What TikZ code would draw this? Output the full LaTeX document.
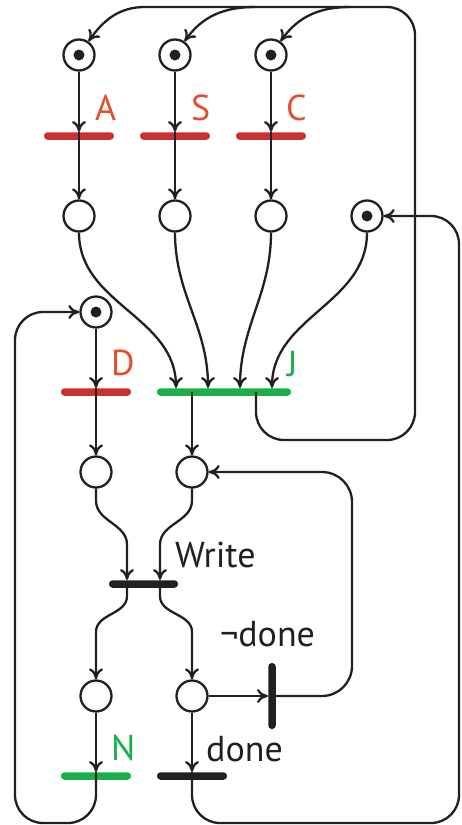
\documentclass[tikz,border=0pt]{standalone}
\usepackage{fontspec}
\setmainfont{PT Sans}
\usepackage{tikz}
\usetikzlibrary{arrows.meta, calc}
\definecolor{ink}{RGB}{35,31,32}
\definecolor{barred}{RGB}{200,50,48}
\definecolor{labred}{RGB}{228,78,45}
\definecolor{netgreen}{RGB}{26,175,75}

\begin{document}
\begin{tikzpicture}[
  x=1pt, y=1pt,
  place/.style  = {circle, draw=ink, line width=2.3pt, fill=white, minimum size=31pt, inner sep=0pt},
  marked/.style = {place, path picture={\fill[ink] (path picture bounding box.center) circle (5.5pt);}},
  tbar/.style   = {rectangle, rounded corners=3.5pt, inner sep=0pt, minimum width=70pt, minimum height=7.5pt},
  vbar/.style   = {tbar, minimum width=7.5pt, minimum height=66pt},
  lab/.style    = {anchor=base west, inner sep=0pt, font=\fontsize{36}{40}\selectfont},
  flow/.style   = {draw=ink, line width=2.3pt,
                   -{Computer Modern Rightarrow[length=11pt, width=14pt, line width=2.3pt]}},
  loop/.style   = {flow, rounded corners=28pt},
]
\useasboundingbox (0,0) rectangle (461,-825);

% top row: A, S, C
\node[marked] (pA) at (79,-55) {};
\node[marked] (pS) at (175,-55) {};
\node[marked] (pC) at (271,-55) {};
\node[tbar, fill=barred] (tA) at (79,-136) {};
\node[tbar, fill=barred] (tS) at (175,-136) {};
\node[tbar, fill=barred] (tC) at (271,-136) {};
\node[lab, text=labred] (lA) at (95,-120) {A};
\node[lab, text=labred] (lS) at (191,-120) {S};
\node[lab, text=labred] (lC) at (286,-120) {C};

\node[place]  (qA) at (79,-216) {};
\node[place]  (qS) at (175,-216) {};
\node[place]  (qC) at (271,-216) {};
\node[marked] (qT) at (367,-216) {};

% join and D
\node[marked] (pD) at (96,-312) {};
\node[tbar, fill=barred] (tD) at (96,-392) {};
\node[tbar, fill=netgreen, minimum width=134pt] (tJ) at (224,-392) {};
\node[lab, text=labred]   (lD) at (111,-375) {D};
\node[lab, text=netgreen] (lJ) at (287,-376) {J};

\node[place] (r1) at (96,-472) {};
\node[place] (r2) at (192,-472) {};

% write
\node[tbar, fill=ink, minimum width=69pt] (tW) at (143.5,-584) {};
\node[lab, text=ink] (lW) at (175,-567) {Write};

\node[place] (w1) at (96,-696) {};
\node[place] (w2) at (192,-696) {};
\node[vbar, fill=ink] (tNot) at (272,-696) {};
\node[lab, text=ink] (lNot) at (220,-646) {¬done};

\node[tbar, fill=netgreen] (tN) at (96,-776) {};
\node[tbar, fill=ink] (tDone) at (192,-776) {};
\node[lab, text=netgreen] (lN) at (111,-760) {N};
\node[lab, text=ink] (lDone) at (206,-761) {done};

% corners and ports
\coordinate (jA) at (145,-7);
\coordinate (jS) at (255,-7);
\coordinate (jC) at (350,-7);
\coordinate (jBend) at (415,-440);
\coordinate (se) at (459,-823);
\coordinate (sw) at (15,-823);
\coordinate (nBend) at (352,-696);
\coordinate (jin1) at ($(tJ.north)+(-48,0)$);
\coordinate (jin2) at ($(tJ.north)+(-16,0)$);
\coordinate (jin3) at ($(tJ.north)+(16,0)$);
\coordinate (jin4) at ($(tJ.north)+(48,0)$);
\coordinate (jout1) at ($(tJ.center)+(-32,0)$);
\coordinate (jout2) at ($(tJ.center)+(32,0)$);
\coordinate (win1) at ($(tW.north)+(-16.5,0)$);
\coordinate (win2) at ($(tW.north)+(16.5,0)$);
\coordinate (wout1) at ($(tW.center)+(-16.5,0)$);
\coordinate (wout2) at ($(tW.center)+(16.5,0)$);

% arcs
\draw[flow] (pA) -- (tA);
\draw[flow] (pS) -- (tS);
\draw[flow] (pC) -- (tC);
\draw[flow] (tA.north) -- (qA);
\draw[flow] (tS.north) -- (qS);
\draw[flow] (tC.north) -- (qC);

\draw[flow] (qA) to[out=-90, in=90] (jin1);
\draw[flow] (qS) to[out=-90, in=90] (jin2);
\draw[flow] (qC) to[out=-90, in=90] (jin3);
\draw[flow] (qT) to[out=-90, in=90] (jin4);

\draw[loop, -] (jout2) |- (jBend) |- (jC) -- (jA);
\draw[flow] (jA) to[out=180, in=55] (pA);
\draw[flow] (jS) to[out=180, in=55] (pS);
\draw[flow] (jC) to[out=180, in=55] (pC);

\draw[flow] (pD) -- (tD);
\draw[flow] (tD.north) -- (r1);
\draw[flow] (jout1) -- (r2);

\draw[flow] (r1.south) -- ++(0,-12) to[out=-90, in=90] ++(31,-44) -- (win1);
\draw[flow] (r2.south) -- ++(0,-12) to[out=-90, in=90] ++(-32,-44) -- (win2);
\draw[flow] (wout1) -- ++(0,-12) to[out=-90, in=90] ++(-31,-36) -- (w1);
\draw[flow] (wout2) -- ++(0,-12) to[out=-90, in=90] ++(32,-36) -- (w2);

\draw[flow] (w1) -- (tN);
\draw[flow] (w2) -- (tDone);
\draw[flow] (w2) -- (tNot);
\draw[loop, rounded corners=30pt] (tNot.center) -- (nBend) |- (r2);
\draw[loop] (tN.north) |- (sw) |- (pD);
\draw[loop] (tDone.north) |- (se) |- (qT);

\end{tikzpicture}
\end{document}
